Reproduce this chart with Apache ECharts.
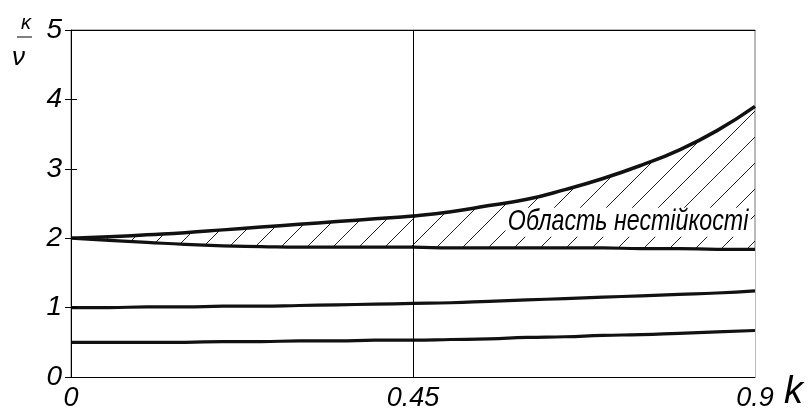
<!DOCTYPE html>
<html><head><meta charset="utf-8">
<script src="https://cdn.jsdelivr.net/npm/echarts@6/dist/echarts.min.js"></script>
<style>html,body{margin:0;padding:0;background:#fff}#c{width:809px;height:412px}</style>
</head><body><div id="c"></div>
<script>
const kValues = [0,0.05,0.1,0.15,0.2,0.25,0.3,0.35,0.4,0.45,0.5,0.55,0.6,0.65,0.7,0.75,0.8,0.85,0.9];
const upperCurve = [2.00,2.02,2.05,2.08,2.12,2.16,2.20,2.24,2.28,2.32,2.38,2.47,2.56,2.70,2.86,3.05,3.27,3.55,3.90];
const lowerCurve = [2.00,1.97,1.94,1.91,1.89,1.88,1.87,1.87,1.87,1.87,1.86,1.86,1.86,1.86,1.86,1.85,1.85,1.84,1.84];
const curveOne  = [1.00,1.00,1.01,1.01,1.02,1.02,1.03,1.04,1.05,1.06,1.07,1.09,1.11,1.13,1.15,1.17,1.19,1.21,1.24];
const curveHalf = [0.50,0.50,0.50,0.50,0.51,0.51,0.52,0.52,0.53,0.53,0.54,0.55,0.57,0.58,0.60,0.61,0.63,0.65,0.67];
const xTickLabels = {0:'0', 0.45:'0.45', 0.9:'0.9'};
const yTickValues = [0,1,2,3,4,5];
const regionLabel = 'Область нестійкості';
const regionLabelPos = [0.733, 2.23];
const markK = 0.45;

const FONT = '"Liberation Sans", sans-serif';

// hatch pattern
const tile = document.createElement('canvas');
tile.width = 26; tile.height = 26;
const tc = tile.getContext('2d');
tc.strokeStyle = '#222'; tc.lineWidth = 1;
tc.beginPath();
tc.moveTo(8,0); tc.lineTo(0,8);
tc.moveTo(26,8); tc.lineTo(8,26);
tc.stroke();

const pair = (ys) => kValues.map((k,i)=>[k, ys[i]]);

const chart = echarts.init(document.getElementById('c'), null, {renderer:'canvas'});
const thick = {color:'#111', width:3.2};
chart.setOption({
  animation:false,
  grid:{left:71, right:54, top:30, bottom:32, show:true, borderColor:'#777', borderWidth:1},
  xAxis:[{type:'value', min:0, max:0.9, interval:0.45, z:10,
    axisLine:{onZero:false, lineStyle:{color:'#000', width:1}},
    axisTick:{show:false}, splitLine:{show:false},
    axisLabel:{formatter:v=>xTickLabels[v] ?? '', fontFamily:FONT, fontStyle:'italic', fontSize:27, color:'#000', margin:8}
  },{type:'value', min:0, max:0.9, interval:0.45, position:'top', z:10,
    axisLine:{show:true, onZero:false, lineStyle:{color:'#000', width:1}},
    axisTick:{show:false}, axisLabel:{show:false}, splitLine:{show:false}
  }],
  yAxis:[{type:'value', min:0, max:5, interval:1, z:10,
    axisLine:{show:true, onZero:false, lineStyle:{color:'#000', width:1}},
    axisTick:{show:true, length:6, lineStyle:{color:'#000'}}, splitLine:{show:false},
    axisLabel:{formatter:v=>yTickValues.includes(v)?String(v):'', fontFamily:FONT, fontStyle:'italic', fontSize:28, color:'#000', margin:9}
  },{type:'value', min:0, max:5, interval:1, position:'left', offset:0, z:10,
    axisLine:{show:false}, axisTick:{show:true, inside:true, length:6, lineStyle:{color:'#000'}},
    axisLabel:{show:false}, splitLine:{show:false}
  }],
  series:[
    {type:'line', data:pair(upperCurve), symbol:'none', smooth:true, lineStyle:{color:'#111', width:3.5},
      areaStyle:{color:{image:tile, repeat:'repeat'}, opacity:1}, z:2},
    {type:'line', data:pair(lowerCurve), symbol:'none', smooth:true, lineStyle:thick,
      areaStyle:{color:'#fff', opacity:1}, z:3},
    {type:'line', data:pair(curveOne), symbol:'none', smooth:true, lineStyle:thick, z:4},
    {type:'line', data:pair(curveHalf), symbol:'none', smooth:true, lineStyle:thick, z:4,
      markLine:{silent:true, symbol:'none', label:{show:false}, lineStyle:{color:'#000', width:1, type:'solid'},
        data:[{xAxis:markK}]}}
  ]
});

const p = chart.convertToPixel({xAxisIndex:0, yAxisIndex:0}, regionLabelPos);
chart.setOption({
  graphic:[
    {type:'text', left:21, top:13, style:{text:'κ', font:'italic 20px '+FONT, fill:'#000'}},
    {type:'line', shape:{x1:17, y1:37, x2:32, y2:37}, style:{stroke:'#000', lineWidth:1}},
    {type:'text', left:12, top:45, style:{text:'ν', font:'italic 26px '+FONT, fill:'#000'}},
    {type:'text', left:784, top:373, style:{text:'k', font:'italic 38px '+FONT, fill:'#000'}},
    {type:'text', x:p[0], y:p[1], scaleX:0.8, z:20,
      style:{text:regionLabel, font:'italic 29px '+FONT, fill:'#000', align:'center', verticalAlign:'middle',
        backgroundColor:'#fff', padding:[0,3]}}
  ]
});
</script></body></html>
